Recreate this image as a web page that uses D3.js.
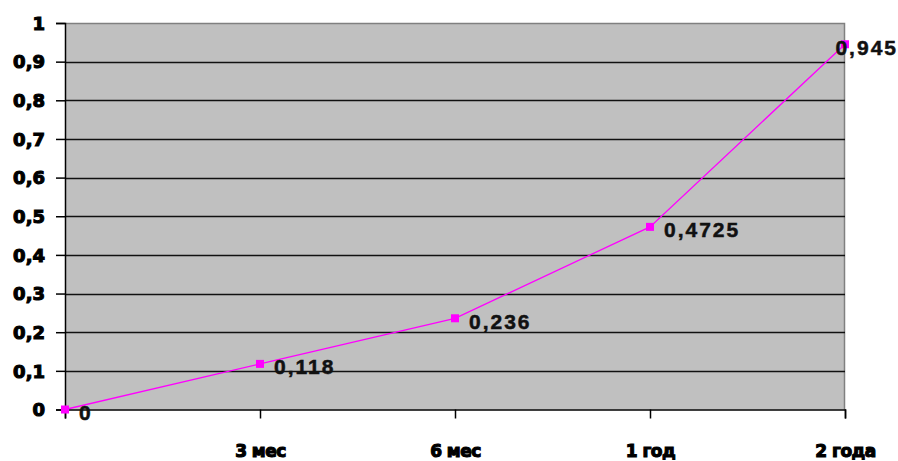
<!DOCTYPE html>
<html><head><meta charset="utf-8">
<script src="https://cdn.jsdelivr.net/npm/d3@7"></script>
<style>
html,body{margin:0;padding:0;background:#fff;}
svg{display:block;}
</style></head>
<body>
<svg id="c" width="898" height="461"></svg>
<script>
const categories = ["", "3 мес", "6 мес", "1 год", "2 года"];
const values = [0, 0.118, 0.236, 0.4725, 0.945];
const valueLabels = ["0", "0,118", "0,236", "0,4725", "0,945"];
const yTicks = [0, 0.1, 0.2, 0.3, 0.4, 0.5, 0.6, 0.7, 0.8, 0.9, 1];
const yTickLabels = ["0", "0,1", "0,2", "0,3", "0,4", "0,5", "0,6", "0,7", "0,8", "0,9", "1"];

const W = 898, H = 461;
const m = {left: 65, right: 845, top: 23, bottom: 409.5};
const svg = d3.select("#c");

const x = d3.scalePoint().domain(categories.map((c,i)=>i)).range([m.left, m.right]);
const y = d3.scaleLinear().domain([0, 1]).range([m.bottom, m.top]);

svg.append("rect").attr("x", m.left).attr("y", m.top)
  .attr("width", m.right - m.left).attr("height", m.bottom - m.top)
  .attr("fill", "#c0c0c0");
svg.append("path").attr("d", `M${m.left},${m.top+0.5}H${m.right-0.5}V${m.bottom}`)
  .attr("fill","none").attr("stroke","#808080").attr("stroke-width",1.5);

svg.append("g").selectAll("line").data(yTicks.filter(d=>d>0 && d<1)).join("line")
  .attr("x1", m.left).attr("x2", m.right)
  .attr("y1", d=>Math.round(y(d))+0.5).attr("y2", d=>Math.round(y(d))+0.5)
  .attr("stroke", "#111").attr("stroke-width", 1.5);

const yAxis = d3.axisLeft(y).tickValues(yTicks).tickFormat((d,i)=>yTickLabels[i])
  .tickSize(9).tickPadding(11);
const gy = svg.append("g").attr("transform", `translate(${m.left},0)`).call(yAxis);
gy.select(".domain").attr("stroke","#000").attr("stroke-width",1.5);
gy.selectAll(".tick line").attr("stroke","#000").attr("stroke-width",1.5);
gy.selectAll(".tick text").attr("font-family","'DejaVu Sans', Verdana, sans-serif")
  .attr("font-weight","bold").attr("font-size","18px").attr("fill","#000")
  .attr("stroke","#000").attr("stroke-width",1.1).attr("dy","0.35em");

const xAxis = d3.axisBottom(x).tickFormat(i=>categories[i]).tickSize(9).tickPadding(26);
const gx = svg.append("g").attr("transform", `translate(0,${m.bottom})`).call(xAxis);
gx.select(".domain").attr("stroke","#000").attr("stroke-width",1.5);
gx.selectAll(".tick line").attr("stroke","#000").attr("stroke-width",1.5);
gx.selectAll(".tick text").attr("font-family","'DejaVu Sans', Verdana, sans-serif")
  .attr("font-weight","bold").attr("font-size","17px").attr("fill","#000")
  .attr("stroke","#000").attr("stroke-width",1.1).attr("letter-spacing","-0.5px");

const line = d3.line().x((d,i)=>x(i)).y(d=>y(d));
svg.append("path").datum(values).attr("d", line)
  .attr("fill","none").attr("stroke","#ff00ff").attr("stroke-width",1.3);

svg.append("g").selectAll("rect").data(values).join("rect")
  .attr("x",(d,i)=>x(i)-4).attr("y",d=>y(d)-4)
  .attr("width",8).attr("height",8).attr("fill","#ff00ff");

const lg = svg.append("g");
values.forEach((d,i)=>{
  const t = lg.append("text").text(valueLabels[i])
    .attr("font-family","'Liberation Sans', Arial, sans-serif")
    .attr("font-weight","bold").attr("font-size","21px").attr("fill","#111")
    .attr("letter-spacing","2px")
    .attr("stroke","#111").attr("stroke-width",0.5)
    .attr("y", y(d)+3).attr("dy","0.35em");
  const w = t.node().getComputedTextLength();
  let tx = x(i) + 14;
  if (tx + w > W) tx = W - w;
  t.attr("x", tx);
});
</script>
</body></html>
